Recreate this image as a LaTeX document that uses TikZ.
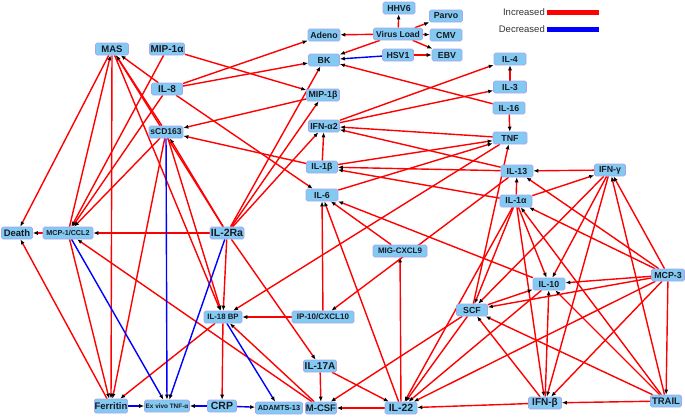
\documentclass[tikz,border=0pt]{standalone}
\usepackage{fontspec}
\setmainfont{Liberation Sans}
\usetikzlibrary{arrows.meta}
\definecolor{nodeblue}{RGB}{130,202,242}
\definecolor{lav}{RGB}{170,165,235}
\definecolor{txt}{RGB}{25,25,35}
\pgfdeclarelayer{edges}
\pgfsetlayers{edges,main}
\newcommand{\fsz}[1]{\bfseries\fontsize{#1}{#1}\selectfont}
\begin{document}
\begin{tikzpicture}[x=1pt,y=-1pt,
  nd/.style={draw=lav, line width=0.6pt, fill=nodeblue, rounded corners=1.5pt,
    minimum height=12pt, inner sep=0.3pt, text=txt, font=\fsz{8.8}},
  big/.style={font=\fsz{10}},
  conn/.style={line width=1.4pt, -{Latex[length=5pt,width=4pt,color=black]}},
  inc/.style={conn, draw=red},
  dec/.style={conn, draw=blue},
  leg/.style={font=\fontsize{9.5}{9.5}\selectfont, text=black!80, anchor=east, inner sep=1pt}]
\useasboundingbox (0,0) rectangle (685,416);
% nodes
\node[nd,font=\fsz{9.5},minimum width=33] (MAS) at (112,49) {MAS};
\node[nd,big,minimum width=35] (MIPa) at (167,49) {MIP-1α};
\node[nd,big,minimum width=31] (ILviii) at (167,89) {IL-8};
\node[nd,font=\fsz{8.5},minimum width=34] (sCD) at (166,132) {sCD163};
\node[nd,minimum width=32] (Adeno) at (324,35) {Adeno};
\node[nd,minimum width=32] (HHV) at (399,8) {HHV6};
\node[nd,minimum width=33] (Parvo) at (446,16) {Parvo};
\node[nd,font=\fsz{8.5},minimum width=49] (VL) at (398,34) {Virus Load};
\node[nd,minimum width=32] (CMV) at (446,35) {CMV};
\node[nd,minimum width=31] (HSV) at (398,55) {HSV1};
\node[nd,minimum width=30] (EBV) at (447,55) {EBV};
\node[nd,minimum width=31] (BK) at (324,60) {BK};
\node[nd,minimum width=33] (MIPb) at (323,95) {MIP-1β};
\node[nd,minimum width=31] (IFNa) at (324,126) {IFN-α2};
\node[nd,minimum width=32] (ILiv) at (510,59) {IL-4};
\node[nd,minimum width=33] (ILiii) at (510,87) {IL-3};
\node[nd,minimum width=32] (ILxvi) at (509,108) {IL-16};
\node[nd,minimum width=34] (TNF) at (510,138) {TNF};
\node[nd,minimum width=31] (ILib) at (322,167) {IL-1β};
\node[nd,minimum width=32] (ILvi) at (322,195) {IL-6};
\node[nd,minimum width=32] (ILxiii) at (517,171) {IL-13};
\node[nd,minimum width=31] (IFNg) at (610,170) {IFN-γ};
\node[nd,minimum width=32] (ILia) at (516,201) {IL-1α};
\node[nd,font=\fsz{9.5},minimum width=31] (Death) at (17,233) {Death};
\node[nd,font=\fsz{7.2},minimum width=50] (MCP) at (68,233) {MCP-1/CCL2};
\node[nd,font=\fsz{10.5},minimum width=34] (ILtwo) at (227,233) {IL-2Ra};
\node[nd,font=\fsz{8},minimum width=54] (MIG) at (400,251) {MIG-CXCL9};
\node[nd,minimum width=32] (ILx) at (549,284) {IL-10};
\node[nd,minimum width=33] (MCPiii) at (668,275) {MCP-3};
\node[nd,minimum width=31] (SCF) at (472,310) {SCF};
\node[nd,font=\fsz{7.8},minimum width=38] (IL18) at (223,317) {IL-18 BP};
\node[nd,font=\fsz{8},minimum width=62] (IP) at (323,317) {IP-10/CXCL10};
\node[nd,big,minimum width=33] (ILxvii) at (320,366) {IL-17A};
\node[nd,font=\fsz{9.5},minimum width=33,minimum height=14] (Ferr) at (111,406) {Ferritin};
\node[nd,font=\fsz{6.4},minimum width=45] (EV) at (167,406) {Ex vivo TNF-α};
\node[nd,font=\fsz{10.5},minimum width=29] (CRP) at (222,406) {CRP};
\node[nd,font=\fsz{7.4},minimum width=47] (ADAM) at (279,408) {ADAMTS-13};
\node[nd,font=\fsz{9.5},minimum width=31] (MCSF) at (321,408) {M-CSF};
\node[nd,font=\fsz{10.5},minimum width=32] (ILxxii) at (401,408) {IL-22};
\node[nd,big,minimum width=33] (IFNb) at (545,403) {IFN-β};
\node[nd,font=\fsz{9.5},minimum width=31] (TRAIL) at (666,401) {TRAIL};
% legend
\node[leg] (linc) at (546,12) {Increased};
\node[leg] (ldec) at (546,29) {Decreased};
\fill[red] (547,9.5) rectangle (599,15);
\fill[blue] (547,26.5) rectangle (599,32);
% connectors
\begin{pgfonlayer}{edges}
\foreach \a/\b in {VL/HHV, VL/Parvo, VL/CMV, VL/EBV, VL/Adeno, VL/BK, HSV/EBV,
  ILxvi/BK, ILxvi/TNF, ILiii/ILiv, IFNa/ILiv, IFNa/ILiii,
  ILviii/Adeno, ILviii/BK, MIPa/MIPb, ILviii/MAS, ILviii/MCP, MIPa/MCP, ILviii/ILvi,
  MIPb/sCD, ILib/sCD, sCD/MAS, MCP/MAS, MAS/Death, MAS/Ferr, MCP/Death, Ferr/Death,
  MCP/Ferr, sCD/Ferr, sCD/MCP, ILtwo/MCP, ILtwo/sCD, ILtwo/MAS, MAS/IL18, sCD/IL18,
  ILtwo/IL18, ILtwo/BK, ILtwo/MIPb, ILtwo/IFNa, ILtwo/ILxvii,
  IP/IL18, IP/ILvi, ILxxii/ILvi, MIG/ILvi, ILx/ILvi, ILxxii/MIG, ILxiii/IP, TNF/IL18,
  TNF/IFNa, ILxiii/IFNa, ILib/IFNa, ILib/TNF, ILvi/TNF, ILxiii/ILib, ILia/ILib,
  IFNg/ILxiii, ILia/ILxiii, ILia/IFNg, MCPiii/ILxiii, MCPiii/ILia, MCPiii/IFNg,
  TRAIL/IFNg, IFNg/SCF, IFNg/ILx, IFNg/IFNb, ILia/ILx, ILia/IFNb, ILia/SCF,
  TRAIL/ILia, ILia/ILxxii, IFNb/ILxxii, ILxxii/MCSF, TRAIL/IFNb, MCPiii/TRAIL,
  MCPiii/ILx, MCPiii/SCF, SCF/ILx, TRAIL/SCF, IFNb/SCF, MCPiii/IFNb, MCPiii/ILxxii,
  TRAIL/ILx, IFNb/ILx, ILx/ILxxii, SCF/MCSF, SCF/ILxxii, SCF/TNF, ILxvii/MCSF,
  ILxvii/ILxxii, MCSF/IL18, MCSF/MCP, IL18/CRP, IL18/Ferr}
  \draw[inc] (\a) -- (\b);
\foreach \a/\b in {HSV/BK, MCP/EV, sCD/EV, ILtwo/EV, IL18/ADAM, Ferr/EV, CRP/EV, CRP/ADAM}
  \draw[dec] (\a) -- (\b);
\end{pgfonlayer}
\end{tikzpicture}
\end{document}
